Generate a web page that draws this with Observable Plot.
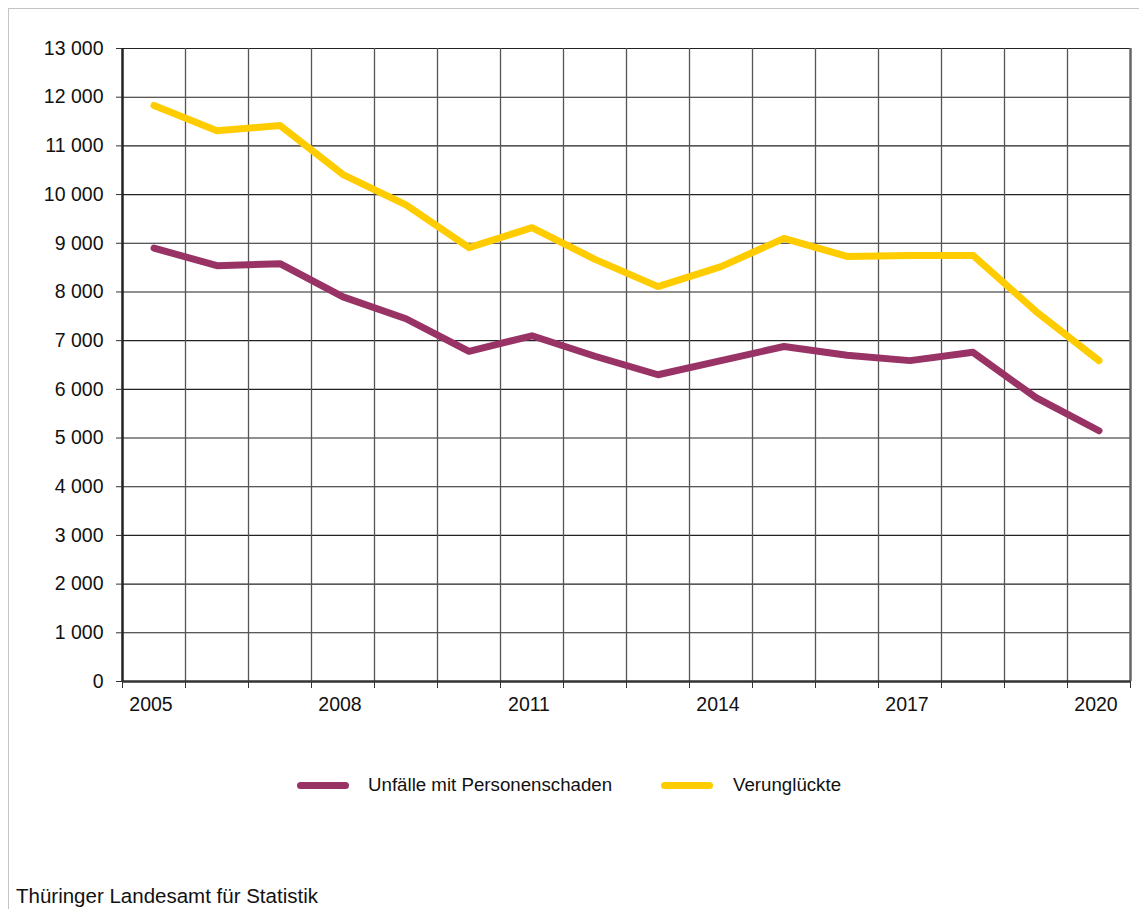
<!DOCTYPE html>
<html>
<head>
<meta charset="utf-8">
<script src="https://cdn.jsdelivr.net/npm/d3@7"></script>
<script src="https://cdn.jsdelivr.net/npm/@observablehq/plot@0.6"></script>
<style>
  html, body { margin: 0; padding: 0; background: #fff; }
  body { width: 1139px; height: 909px; position: relative; overflow: hidden; font-family: "Liberation Sans", Arial, sans-serif; color: #111; }
  #frame { position: absolute; left: 8px; top: 8px; width: 1140px; height: 910px; border-left: 1.5px solid #c4c4c4; border-top: 1.5px solid #c4c4c4; }
  #chart { position: absolute; left: 0; top: 0; }
  #legend { position: absolute; left: 0; top: 773px; width: 1139px; height: 24px; }
  .sw { position: absolute; height: 7px; border-radius: 4px; top: 9px; }
  .lt { position: absolute; top: 0; font-size: 18.7px; line-height: 24px; white-space: nowrap; }
  #caption { position: absolute; left: 16px; top: 884px; font-size: 20.5px; line-height: 24px; white-space: nowrap; }
</style>
</head>
<body>
<div id="frame"></div>
<div id="chart"></div>
<div id="legend"></div>
<div id="caption">Thüringer Landesamt für Statistik</div>
<script>
const years = [2005, 2006, 2007, 2008, 2009, 2010, 2011, 2012, 2013, 2014, 2015, 2016, 2017, 2018, 2019, 2020];
const unfaelle = [8900, 8540, 8580, 7900, 7450, 6780, 7100, 6680, 6300, 6590, 6880, 6700, 6590, 6760, 5830, 5150];
const verunglueckte = [11830, 11310, 11420, 10410, 9790, 8910, 9320, 8670, 8110, 8520, 9100, 8730, 8750, 8750, 7600, 6590];
const seriesNames = ["Unfälle mit Personenschaden", "Verunglückte"];
const seriesColors = ["#993366", "#ffcc00"];
const yTicks = [0, 1000, 2000, 3000, 4000, 5000, 6000, 7000, 8000, 9000, 10000, 11000, 12000, 13000];
const xLabelYears = [2005, 2008, 2011, 2014, 2017, 2020];

const rows = [];
years.forEach((y, i) => {
  rows.push({year: y, value: unfaelle[i], series: seriesNames[0]});
  rows.push({year: y, value: verunglueckte[i], series: seriesNames[1]});
});
const edges = years.map(y => y - 0.5).concat([years[years.length - 1] + 0.5]);
const fmt = v => d3.format(",")(v).replace(/,/g, " ");

const chart = Plot.plot({
  width: 1139,
  height: 720,
  marginLeft: 122,
  marginRight: 9,
  marginTop: 48,
  marginBottom: 39,
  style: {fontFamily: '"Liberation Sans", Arial, sans-serif', fontSize: "19.5px", color: "#111", background: "transparent"},
  x: {type: "linear", domain: [edges[0], edges[edges.length - 1]]},
  y: {domain: [0, 13000]},
  color: {domain: seriesNames, range: seriesColors},
  marks: [
    Plot.ruleY(yTicks, {stroke: "#222", strokeWidth: 1.1}),
    Plot.ruleX(edges.slice(1, -1), {stroke: "#555", strokeWidth: 1.3}),
    Plot.ruleX([edges[edges.length - 1]], {stroke: "#666", strokeWidth: 2.5}),
    Plot.ruleX([edges[0]], {stroke: "#222", strokeWidth: 2.5}),
    Plot.ruleY([0], {stroke: "#333", strokeWidth: 2.5}),
    Plot.axisY({ticks: yTicks, tickFormat: fmt, tickSize: 6, tickPadding: 13, label: null, stroke: "#333"}),
    Plot.axisX({ticks: edges, tickFormat: () => "", tickSize: 7, label: null, stroke: "#333"}),
    Plot.axisX({ticks: xLabelYears, tickFormat: d => String(d), tickSize: 0, tickPadding: 16, dx: -3, label: null}),
    Plot.line(rows, {x: "year", y: "value", z: "series", stroke: "series", strokeWidth: 7, strokeLinecap: "round", strokeLinejoin: "round"})
  ]
});
document.getElementById("chart").appendChild(chart);

const legend = document.getElementById("legend");
const legendPos = [{sw: 297, tx: 368}, {sw: 661, tx: 733}];
seriesNames.forEach((name, i) => {
  const sw = document.createElement("div");
  sw.className = "sw";
  sw.style.left = legendPos[i].sw + "px";
  sw.style.width = "52px";
  sw.style.background = seriesColors[i];
  legend.appendChild(sw);
  const t = document.createElement("div");
  t.className = "lt";
  t.style.left = legendPos[i].tx + "px";
  t.textContent = name;
  legend.appendChild(t);
});
</script>
</body>
</html>
